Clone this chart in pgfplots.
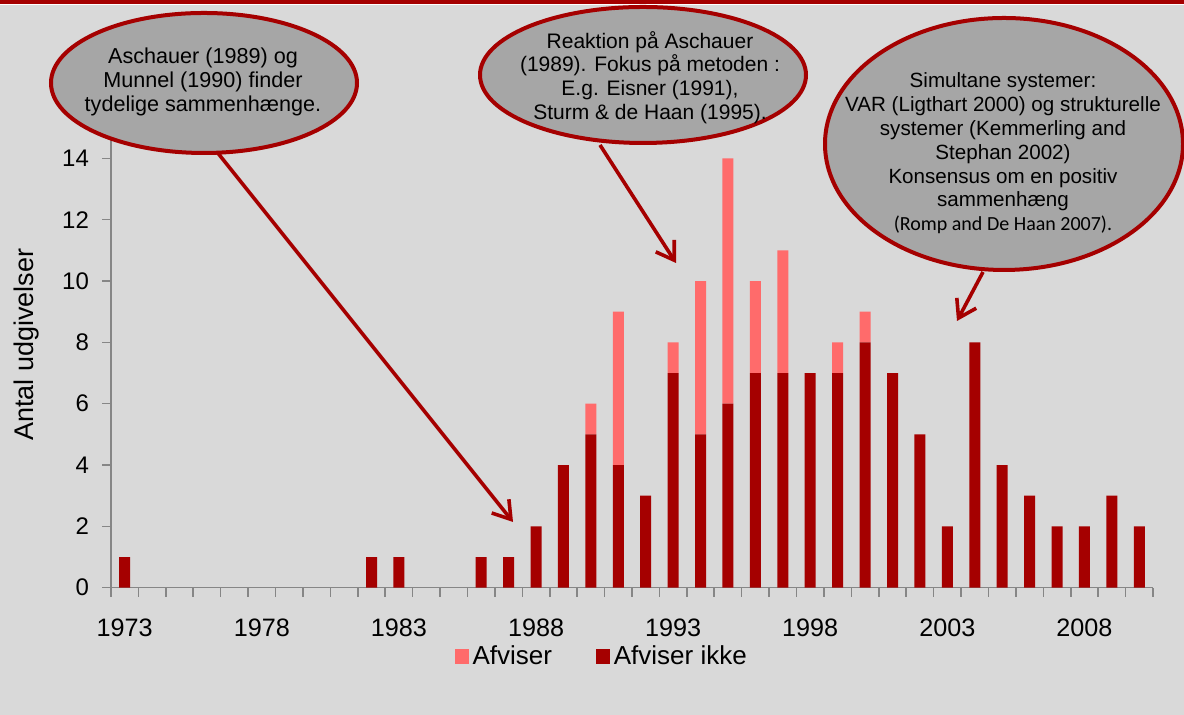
\documentclass[border=0pt]{standalone}
\usepackage{fontspec}
\setmainfont{Liberation Sans}
\newfontfamily\calibri{Carlito}
\usepackage{pgfplots}
\pgfplotsset{compat=1.18}
\usetikzlibrary{arrows.meta}
\definecolor{bg}{HTML}{D9D9D9}
\definecolor{darkred}{HTML}{A50000}
\definecolor{lightred}{HTML}{FF6B6B}
\definecolor{ellfill}{HTML}{A6A6A6}
\definecolor{axgray}{HTML}{868686}

\pgfplotstableread{
year ikke afviser
1973 1 0
1974 0 0
1975 0 0
1976 0 0
1977 0 0
1978 0 0
1979 0 0
1980 0 0
1981 0 0
1982 1 0
1983 1 0
1984 0 0
1985 0 0
1986 1 0
1987 1 0
1988 2 0
1989 4 0
1990 5 1
1991 4 5
1992 3 0
1993 7 1
1994 5 5
1995 6 8
1996 7 3
1997 7 4
1998 7 0
1999 7 1
2000 8 1
2001 7 0
2002 5 0
2003 2 0
2004 8 0
2005 4 0
2006 3 0
2007 2 0
2008 2 0
2009 3 0
2010 2 0
}\datatable

\begin{document}
\begin{tikzpicture}[x=0.5pt,y=0.5pt]
\useasboundingbox (0,0) rectangle (1184,715);
\fill[bg] (0,0) rectangle (1184,715);
\fill[darkred] (0,711) rectangle (1184,715);
\draw[white, line width=0.6pt] (0,710.4) -- (1184,710.4);
\begin{axis}[
  at={(55.5pt,63.65pt)}, anchor=south west,
  scale only axis, width=521pt, height=245.35pt,
  xmin=1972.5, xmax=2010.5, ymin=0, ymax=16,
  axis lines=left, axis line style={-, axgray, line width=0.8pt},
  ybar stacked, bar width=5.5pt,
  xtick={1972.5,1973.5,...,2010.5}, xticklabel=\empty,
  extra x ticks={1973,1978,1983,1988,1993,1998,2003,2008},
  extra x tick labels={1973,1978,1983,1988,1993,1998,2003,2008},
  extra x tick style={major tick length=0pt, xticklabel style={yshift=-12pt, font=\fontsize{12.6}{14}\selectfont}},
  ytick={0,2,...,14},
  tick align=outside, major tick length=4.5pt,
  tick style={axgray, line width=0.8pt},
  ticklabel style={font=\fontsize{12}{14}\selectfont, text=black},
  yticklabel style={xshift=-3pt},
  /pgf/number format/assume math mode=true,
  ylabel={Antal udgivelser},
  every axis y label/.style={at={(axis description cs:-0.0806,0.495)}, rotate=90, anchor=center, font=\fontsize{13.5}{15}\selectfont},
  legend style={at={(axis description cs:0.472,-0.14)}, anchor=center, draw=none, fill=none,
    font=\fontsize{13}{15}\selectfont, legend columns=2,
    /tikz/every even column/.append style={column sep=20pt}},
  legend cell align=left,
]
\addlegendimage{legend image code/.code={\fill[lightred] (0pt,-3.5pt) rectangle (6.5pt,3.5pt);}}
\addlegendentry{Afviser}
\addlegendimage{legend image code/.code={\fill[darkred] (0pt,-3.5pt) rectangle (6.5pt,3.5pt);}}
\addlegendentry{Afviser ikke}
\addplot[fill=darkred, draw=none, forget plot] table[x=year, y=ikke] {\datatable};
\addplot[fill=lightred, draw=none, forget plot] table[x=year, y=afviser] {\datatable};
\end{axis}
% arrows
\begin{scope}[darkred, line width=1.8pt, -{Straight Barb[length=8.5pt,width=11pt]}]
\draw (217,563) -- (513,193);
\draw (600,570) -- (676,452);
\draw (983,443) -- (957,394);
\end{scope}
% ellipses
\filldraw[fill=ellfill, draw=darkred, line width=2pt] (204,632) ellipse [x radius=76.5pt, y radius=35pt];
\filldraw[fill=ellfill, draw=darkred, line width=2pt] (643,640) ellipse [x radius=81.5pt, y radius=34pt];
\filldraw[fill=ellfill, draw=darkred, line width=2pt] (1004,571) ellipse [x radius=89.5pt, y radius=63pt];
\node[align=center, inner sep=0pt, font=\fontsize{10.8}{11.8}\selectfont] at (203,633)
  {Aschauer (1989) og\\Munnel (1990) finder\\tydelige sammenhænge.};
\node[align=center, inner sep=0pt, font=\fontsize{10.5}{11.8}\selectfont] at (650,637.5)
  {Reaktion på Aschauer\\(1989). Fokus på metoden :\\E.g. Eisner (1991),\\Sturm \& de Haan (1995).};
\node[align=center, inner sep=0pt, font=\fontsize{10.3}{11.9}\selectfont] at (1003,561.5)
  {Simultane systemer:\\VAR (Ligthart 2000) og strukturelle\\systemer (Kemmerling and\\Stephan 2002)\\Konsensus om en positiv\\sammenhæng\\{\calibri\fontsize{10}{11.9}\selectfont (Romp and De Haan 2007).}};
\end{tikzpicture}
\end{document}
